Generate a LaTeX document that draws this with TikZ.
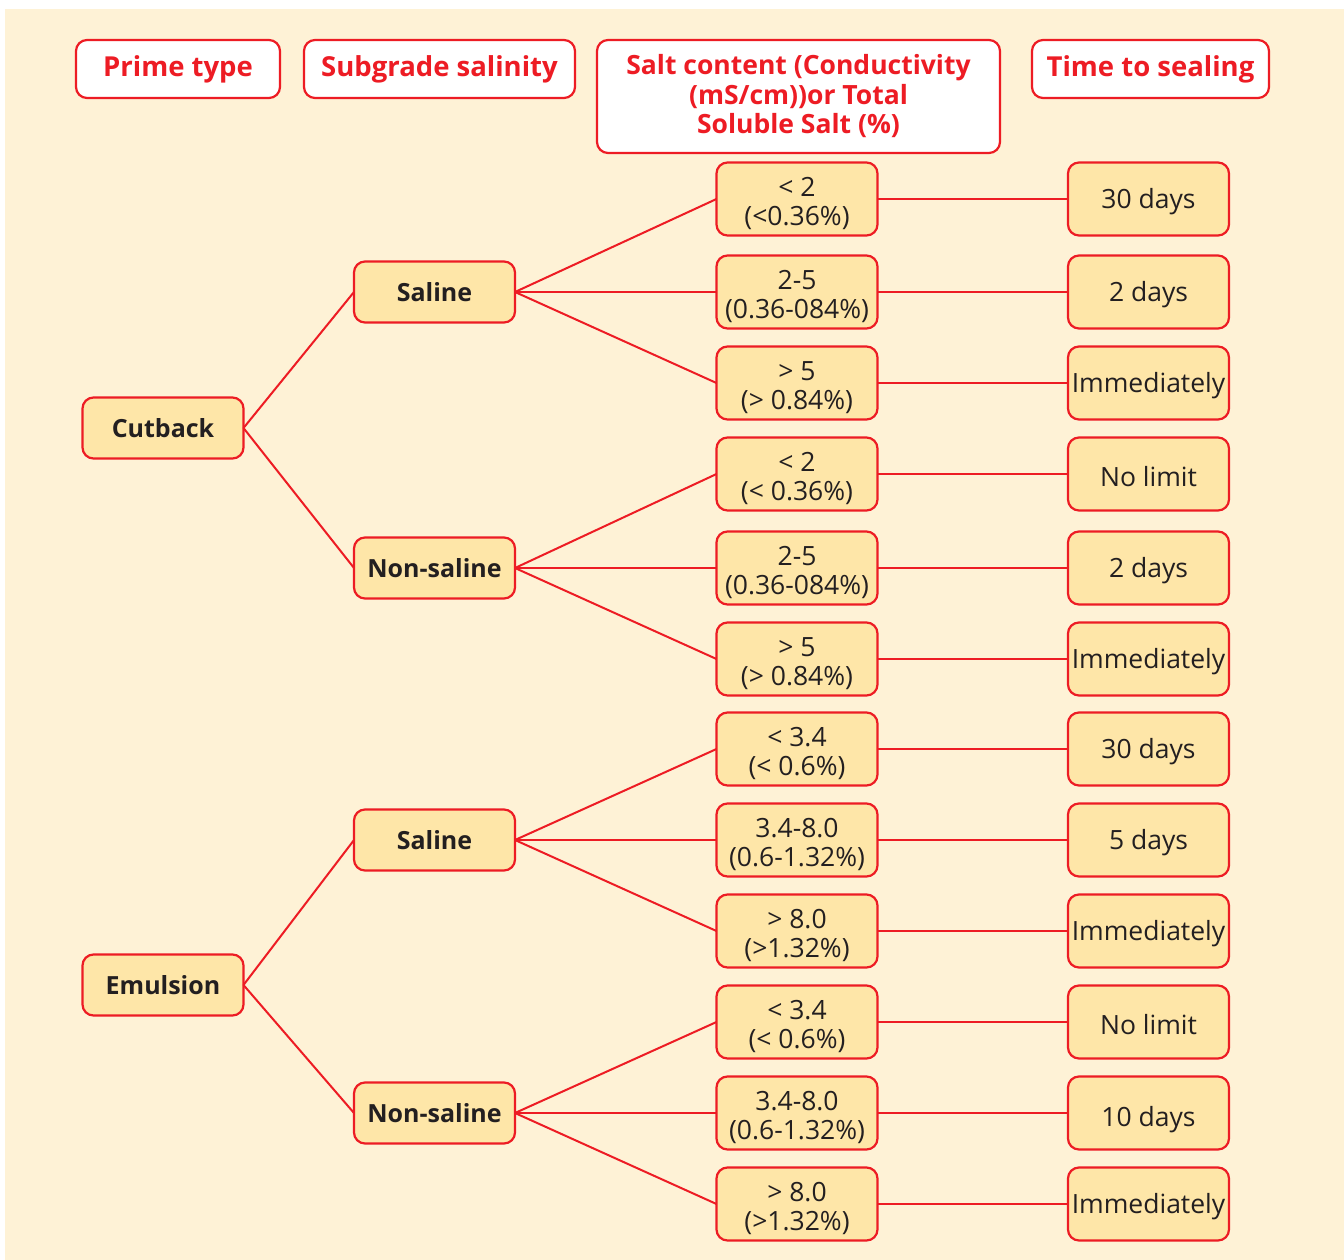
\documentclass[tikz,border=0pt]{standalone}
\usepackage{fontspec}
\setmainfont{Open Sans}
\definecolor{myred}{RGB}{237,28,36}
\definecolor{bgc}{RGB}{254,242,214}
\definecolor{boxfill}{RGB}{254,230,168}
\definecolor{txt}{RGB}{35,31,32}
\begin{document}
\begin{tikzpicture}[x=1pt,y=-1pt,
  every node/.style={inner sep=0pt, outer sep=0pt},
  base/.style={draw=myred, line width=2.2pt, rounded corners=11pt, align=center},
  hdr/.style={base, fill=white, text=myred, font=\fontsize{27.5}{29.5}\selectfont\bfseries},
  lvl/.style={base, fill=boxfill, text=txt, font=\fontsize{25}{29}\selectfont\bfseries, minimum width=161pt, minimum height=61pt},
  sc/.style={base, fill=boxfill, minimum width=161pt, minimum height=73pt},
  sct/.style={text=txt, align=center, font=\fontsize{26.5}{29}\selectfont},
  two/.style={sct, yshift=-4.5pt},
  one/.style={sct, yshift=-2.5pt},
  con/.style={draw=myred, line width=2pt}]
\useasboundingbox (0,0) rectangle (1344,1260);
\fill[white] (0,0) rectangle (1344,1260);
\fill[bgc] (5,9) rectangle (1344,1260);
% headers
\node[hdr, minimum width=204pt, minimum height=58pt] (h1) at (178,69) {Prime type};
\node[hdr, minimum width=271pt, minimum height=58pt] (h2) at (439.5,69) {Subgrade salinity};
\node[hdr, minimum width=403pt, minimum height=113pt, font=\fontsize{26.5}{29.5}\selectfont\bfseries] (h3) at (798.5,96.5) {Salt content (Conductivity\\(mS/cm))or Total\\Soluble Salt (\%)};
\node[hdr, minimum width=237pt, minimum height=58pt] (h4) at (1150.5,69) {Time to sealing};
% level 1
\node[lvl] (cut) at (163,428) {Cutback};
\node[lvl] (emu) at (163,985) {Emulsion};
% level 2
\node[lvl] (sa1) at (434.5,292) {Saline};
\node[lvl] (ns1) at (434.5,568) {Non-saline};
\node[lvl] (sa2) at (434.5,840) {Saline};
\node[lvl] (ns2) at (434.5,1113) {Non-saline};
% level 3
\node[sc, label={[two]center:{< 2\\(<0.36\%)}}] (s1) at (797,199) {};
\node[sc, label={[two]center:{2-5\\(0.36-084\%)}}] (s2) at (797,292) {};
\node[sc, label={[two]center:{> 5\\(> 0.84\%)}}] (s3) at (797,383) {};
\node[sc, label={[two]center:{< 2\\(< 0.36\%)}}] (s4) at (797,474) {};
\node[sc, label={[two]center:{2-5\\(0.36-084\%)}}] (s5) at (797,568) {};
\node[sc, label={[two]center:{> 5\\(> 0.84\%)}}] (s6) at (797,659) {};
\node[sc, label={[two]center:{< 3.4\\(< 0.6\%)}}] (s7) at (797,749) {};
\node[sc, label={[two]center:{3.4-8.0\\(0.6-1.32\%)}}] (s8) at (797,840) {};
\node[sc, label={[two]center:{> 8.0\\(>1.32\%)}}] (s9) at (797,931) {};
\node[sc, label={[two]center:{< 3.4\\(< 0.6\%)}}] (s10) at (797,1022) {};
\node[sc, label={[two]center:{3.4-8.0\\(0.6-1.32\%)}}] (s11) at (797,1113) {};
\node[sc, label={[two]center:{> 8.0\\(>1.32\%)}}] (s12) at (797,1204) {};
% level 4
\node[sc, label={[one]center:30 days}] (t1) at (1148.5,199) {};
\node[sc, label={[one]center:2 days}] (t2) at (1148.5,292) {};
\node[sc, label={[one]center:Immediately}] (t3) at (1148.5,383) {};
\node[sc, label={[one]center:No limit}] (t4) at (1148.5,474) {};
\node[sc, label={[one]center:2 days}] (t5) at (1148.5,568) {};
\node[sc, label={[one]center:Immediately}] (t6) at (1148.5,659) {};
\node[sc, label={[one]center:30 days}] (t7) at (1148.5,749) {};
\node[sc, label={[one]center:5 days}] (t8) at (1148.5,840) {};
\node[sc, label={[one]center:Immediately}] (t9) at (1148.5,931) {};
\node[sc, label={[one]center:No limit}] (t10) at (1148.5,1022) {};
\node[sc, label={[one, yshift=-4pt]center:10 days}] (t11) at (1148.5,1113) {};
\node[sc, label={[one]center:Immediately}] (t12) at (1148.5,1204) {};
% connectors
\draw[con] (cut.east) -- (sa1.west);
\draw[con] (cut.east) -- (ns1.west);
\draw[con] (emu.east) -- (sa2.west);
\draw[con] (emu.east) -- (ns2.west);
\foreach \a/\b in {sa1/s1,sa1/s2,sa1/s3,ns1/s4,ns1/s5,ns1/s6,sa2/s7,sa2/s8,sa2/s9,ns2/s10,ns2/s11,ns2/s12}
  \draw[con] (\a.east) -- (\b.west);
\foreach \i in {1,...,12}
  \draw[con] (s\i.east) -- (t\i.west);
\end{tikzpicture}
\end{document}
